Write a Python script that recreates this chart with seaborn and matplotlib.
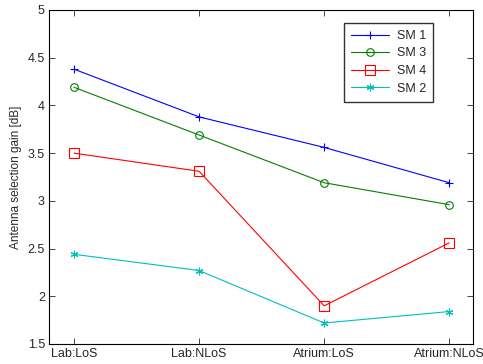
import matplotlib
matplotlib.use("Agg")
import matplotlib.pyplot as plt
import seaborn as sns
import pandas as pd

categories = ["Lab:LoS", "Lab:NLoS", "Atrium:LoS", "Atrium:NLoS"]
sm1 = [4.38, 3.88, 3.56, 3.19]
sm3 = [4.19, 3.69, 3.19, 2.96]
sm4 = [3.50, 3.31, 1.90, 2.56]
sm2 = [2.44, 2.27, 1.72, 1.84]
series_names = ["SM 1", "SM 3", "SM 4", "SM 2"]
series_values = [sm1, sm3, sm4, sm2]
colors = ["#0000ff", "#008000", "#ff0000", "#00bfbf"]
markers = ["+", "o", "s", (6, 2, 0)]
msizes = [6, 5.5, 6.5, 5.5]

sns.set_style("ticks")
plt.rcParams["font.family"] = ["Liberation Sans", "DejaVu Sans"]
plt.rcParams["xtick.direction"] = "in"
plt.rcParams["ytick.direction"] = "in"

fig = plt.figure(figsize=(4.83, 3.64), dpi=100)
ax = fig.add_axes([49/483, 1 - 344/364, (473-49)/483, (344-10)/364])

for name, vals, c, m, ms in zip(series_names, series_values, colors, markers, msizes):
    df = pd.DataFrame({"cat": categories, "val": vals})
    sns.lineplot(data=df, x="cat", y="val", ax=ax, color=c, marker=m,
                 markersize=ms, markerfacecolor="none", markeredgecolor=c,
                 markeredgewidth=0.8, linewidth=0.8, label=name, sort=False)

ax.set_xlim(-0.2, 3.19)
ax.set_ylim(1.5, 5)
ax.set_yticks([1.5, 2, 2.5, 3, 3.5, 4, 4.5, 5])
ax.set_yticklabels(["1.5", "2", "2.5", "3", "3.5", "4", "4.5", "5"])
ax.set_xlabel("")
ax.set_ylabel("Antenna selection gain [dB]", fontsize=8.5, labelpad=4)
ax.tick_params(axis="both", labelsize=9, length=4, width=0.6, top=True, right=True, pad=3)
for s in ax.spines.values():
    s.set_visible(True)
    s.set_linewidth(0.8)
    s.set_color("black")

leg = ax.legend(loc="upper right", bbox_to_anchor=((433-49)/424, (344-23)/334),
                borderaxespad=0, fontsize=9, frameon=True, fancybox=False,
                edgecolor="black", handlelength=3.1, borderpad=0.55,
                labelspacing=0.45, handletextpad=0.6)
leg.get_frame().set_linewidth(1.0)

fig.savefig("out.png", dpi=100)
